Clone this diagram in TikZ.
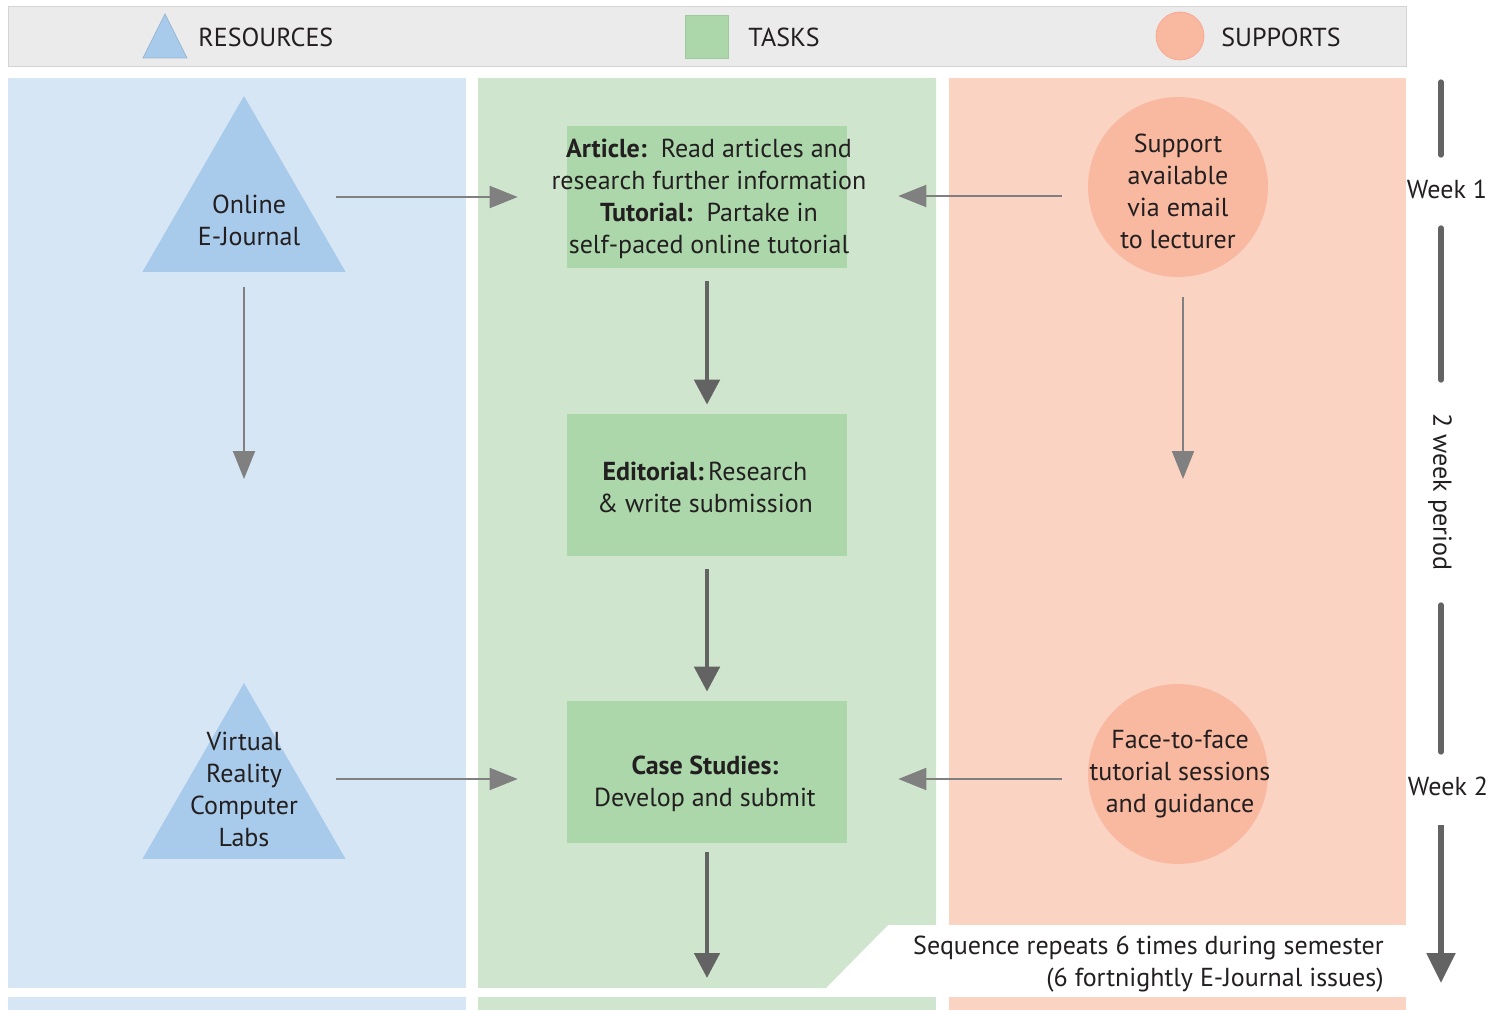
\documentclass[tikz,border=0pt]{standalone}
\usepackage{fontspec}
\setmainfont{PT Sans}
\usetikzlibrary{arrows.meta,positioning,shapes.geometric}
\definecolor{resbg}{HTML}{D6E6F5}
\definecolor{resfg}{HTML}{A9CBEB}
\definecolor{taskbg}{HTML}{CFE5CD}
\definecolor{taskfg}{HTML}{ABD7AB}
\definecolor{supbg}{HTML}{FBD3C2}
\definecolor{supfg}{HTML}{F8B9A0}
\definecolor{legbg}{HTML}{EBEBEB}
\definecolor{ink}{HTML}{231F20}
\definecolor{arrgray}{HTML}{808080}
\definecolor{darkgray}{HTML}{636363}

\begin{document}
\begin{tikzpicture}[x=0.02cm,y=-0.02cm,
    txt/.style={align=center,text=ink,inner sep=0pt,font=\fontsize{14.8}{18.2}\selectfont},
    restri/.style={regular polygon,regular polygon sides=3,fill=resfg,minimum size=4.69cm,inner sep=0pt},
    taskbox/.style={rectangle,fill=taskfg,minimum width=5.6cm,minimum height=2.84cm,inner sep=0pt},
    supcirc/.style={circle,fill=supfg,minimum size=3.6cm,inner sep=0pt},
    flowarrow/.style={draw=arrgray,line width=1.1pt,-{Triangle[length=0.56cm,width=0.44cm]}},
    mainarrow/.style={draw=darkgray,line width=2.8pt,-{Triangle[length=0.5cm,width=0.5cm]}},
    timeline/.style={draw=darkgray,line width=3pt,line cap=round}]
    \useasboundingbox (0,0) rectangle (1494,1010);
    % legend
    \fill[legbg,draw=black!17] (8,6) rectangle (1406,66);
    \fill[resfg,draw=resfg!90!black] (143,58) -- (165,14) -- (187,58) -- cycle;
    \node (lres) at (198,37) [txt,anchor=west] {RESOURCES};
    \fill[taskfg,draw=taskfg!93!black] (685,15) rectangle (728,58);
    \node (ltask) at (748,37) [txt,anchor=west] {TASKS};
    \fill[supfg,draw=supfg!90!red] (1180,36) circle (24);
    \node (lsup) at (1221,37) [txt,anchor=west] {SUPPORTS};
    % columns
    \fill[resbg] (8,78) rectangle (466,988);
    \fill[taskbg] (478,78) -- (936,78) -- (936,925) -- (888,925) -- (826,988) -- (478,988) -- cycle;
    \fill[supbg] (949,78) rectangle (1406,925);
    \fill[resbg] (8,997) rectangle (466,1010);
    \fill[taskbg] (478,997) rectangle (936,1010);
    \fill[supbg] (949,997) rectangle (1406,1010);
    % resources
    \node (ej) at (244,213.2) [restri] {};
    \node (ejtext) at (249,220) [txt] {Online\\E-Journal};
    \node (vr) at (244,800.2) [restri] {};
    \node (vrtext) at (244,789) [txt] {Virtual\\Reality\\Computer\\Labs};
    % tasks
    \node (t1) at (707,197) [taskbox] {};
    \node (t1text) at (709,199) [txt] {\textbf{Article:}\ \ Read articles and\\research further information\\\textbf{Tutorial:}\ \ Partake in\\self-paced online tutorial};
    \node (t2) at (707,485) [taskbox] {};
    \node (t2text) at (705,487) [txt] {\textbf{Editorial:}\,Research\\\&\ write submission};
    \node (t3) at (707,772) [taskbox] {};
    \node (t3text) at (705,784) [txt] {\textbf{Case Studies:}\\Develop and submit};
    % supports
    \node (s1) at (1178,187) [supcirc] {};
    \node (s1text) at (1178,191) [txt] {Support\\available\\via email\\to lecturer};
    \node (s2) at (1178,774) [supcirc] {};
    \node (s2text) at (1180,774) [txt] {Face-to-face\\tutorial sessions\\and guidance};
    % connectors
    \coordinate (ejr) at (336,197);
    \coordinate (ejd) at (244,479);
    \coordinate (vrr) at (336,779);
    \coordinate (s1l) at (1062,196);
    \coordinate (s1d) at (1183,297);
    \coordinate (s1e) at (1183,479);
    \coordinate (s2l) at (1062,779);
    \coordinate (t3e) at (707,978);
    \draw[flowarrow] (ejr) -- (ejr -| t1.west) [shorten >=0.98cm];
    \draw[flowarrow] (s1l) -- (s1l -| t1.east) [shorten >=1.02cm];
    \draw[flowarrow] (ej.south) -- (ejd) [shorten <=0.3cm];
    \draw[flowarrow] (s1d) -- (s1e);
    \draw[flowarrow] (vrr) -- (vrr -| t3.west) [shorten >=0.98cm];
    \draw[flowarrow] (s2l) -- (s2l -| t3.east) [shorten >=1.02cm];
    \draw[mainarrow] (t1.south) -- (t2.north) [shorten <=0.26cm,shorten >=0.18cm];
    \draw[mainarrow] (t2.south) -- (t3.north) [shorten <=0.26cm,shorten >=0.18cm];
    \draw[mainarrow] (t3.south) -- (t3e) [shorten <=0.18cm];
    % repeat note
    \node (rep) at (1384,964) [txt,anchor=east,align=right] {Sequence repeats 6 times during semester\\(6 fortnightly E-Journal issues)};
    % time line
    \node (wk1) at (1447,189) [txt] {Week 1};
    \node (per) at (1440,492) [txt,rotate=-90] {2 week period};
    \node (wk2) at (1448,786) [txt] {Week 2};
    \coordinate (tl0) at (1441,82);
    \coordinate (tl1) at (1441,155);
    \coordinate (tl2) at (1441,228);
    \coordinate (tl3) at (1441,380);
    \coordinate (tl4) at (1441,605);
    \coordinate (tl5) at (1441,752);
    \coordinate (tl6) at (1441,825);
    \coordinate (tl7) at (1441,983);
    \draw[timeline] (tl0) -- (tl1);
    \draw[timeline] (tl2) -- (tl3);
    \draw[timeline] (tl4) -- (tl5);
    \draw[timeline,line cap=butt,-{Triangle[length=0.6cm,width=0.56cm]}] (tl6) -- (tl7);
\end{tikzpicture}
\end{document}
